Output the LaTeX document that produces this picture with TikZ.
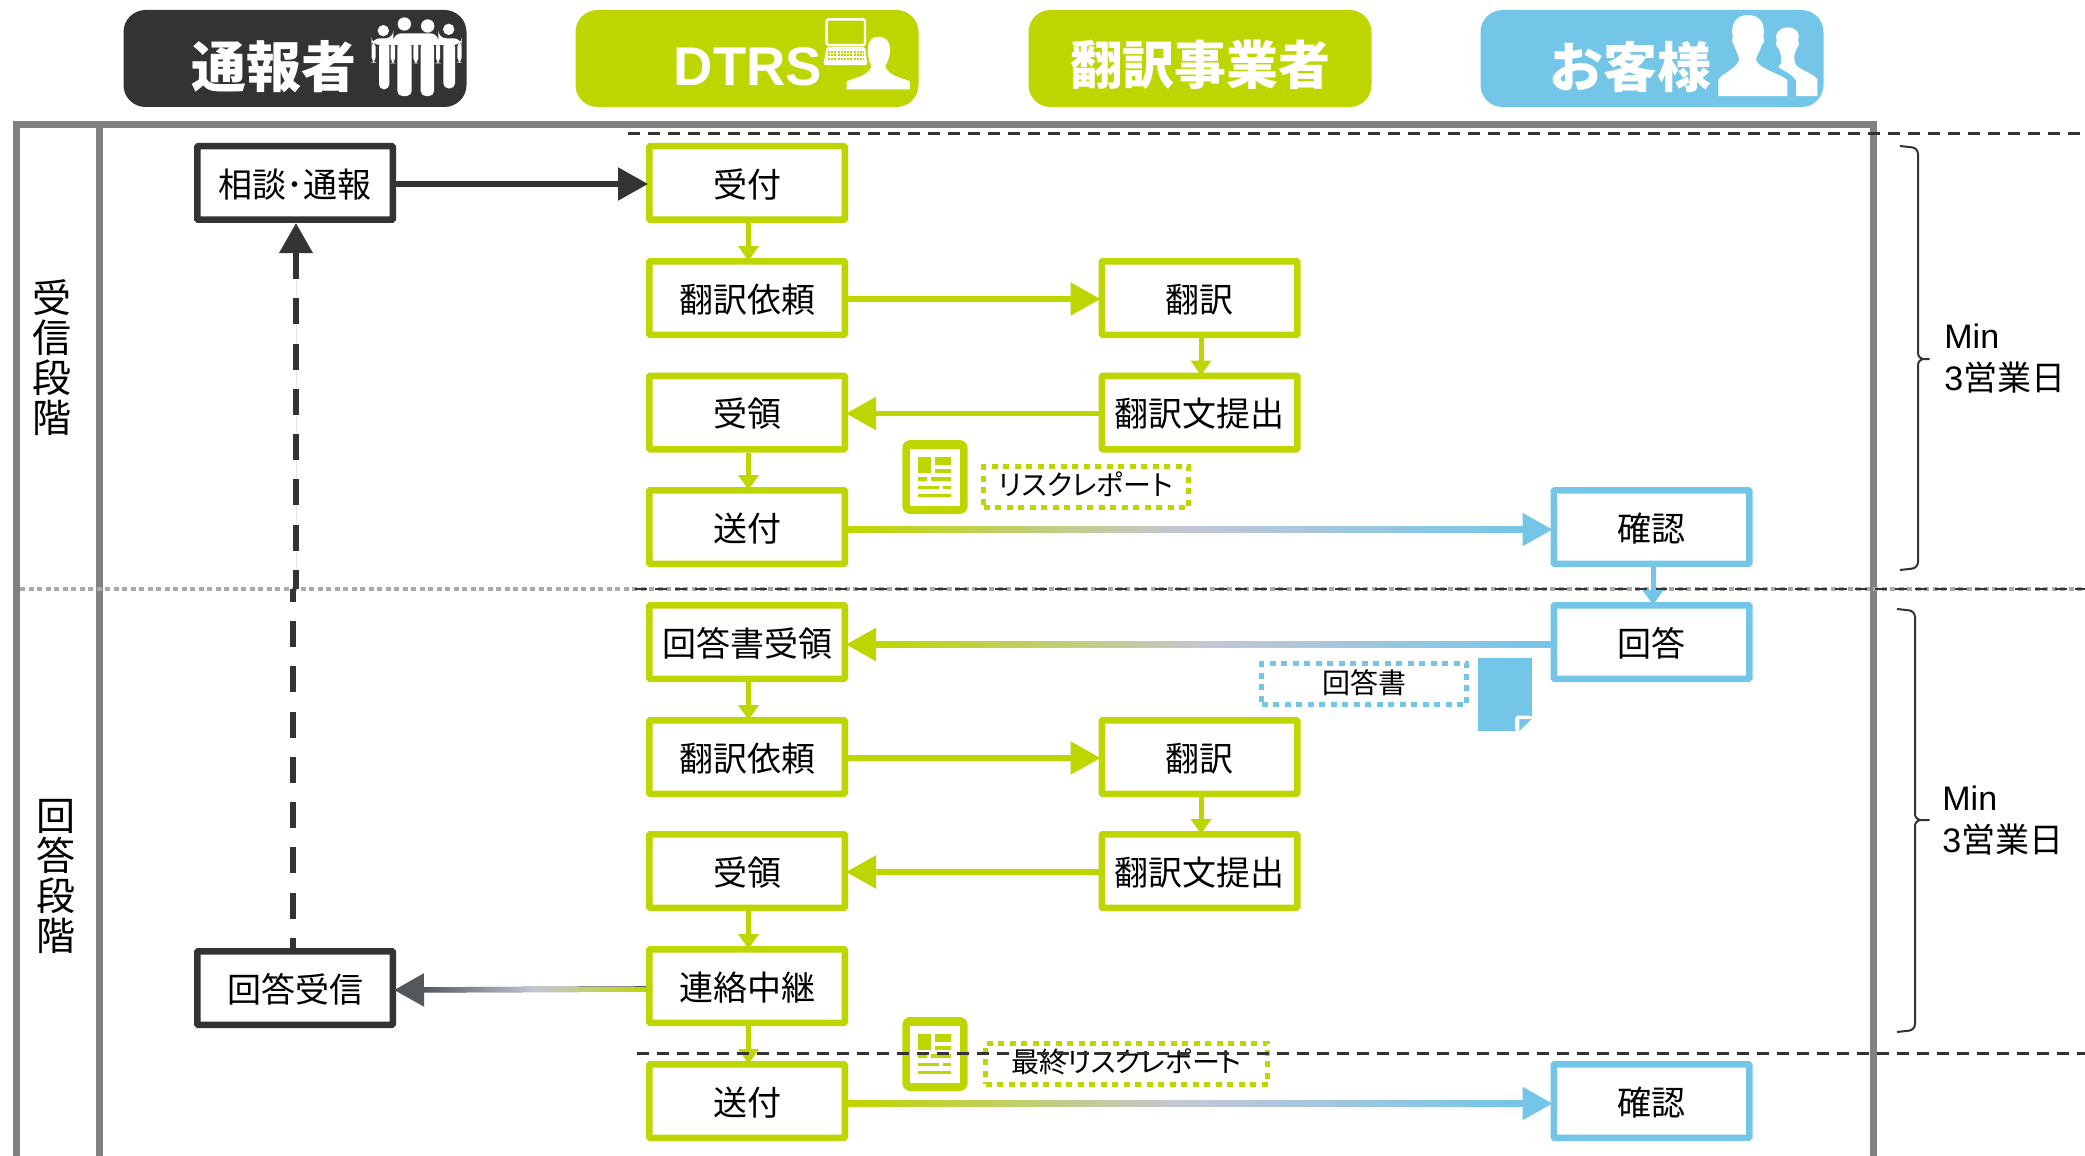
\documentclass[tikz,border=0pt]{standalone}
\usepackage{fontspec}
\usepackage{xcolor}
\usepackage{tikz}
\usetikzlibrary{arrows.meta,calc}
\setmainfont{Noto Sans CJK JP}
\newfontfamily\latinfont{Liberation Sans}
\definecolor{inkDark}{RGB}{51,51,51}
\definecolor{lime}{RGB}{190,214,0}
\definecolor{sky}{RGB}{115,198,231}
\definecolor{frameGrey}{RGB}{128,128,128}
\definecolor{dotGrey}{RGB}{170,170,170}
\definecolor{lav}{RGB}{196,198,214}
\definecolor{tipGrey}{RGB}{84,88,94}
\tikzset{
  hdr/.style={rounded corners=11pt, minimum width=171.5pt, minimum height=48.5pt, inner sep=0pt},
  hdrText/.style={text=white, inner sep=0pt, font=\fontsize{27.5}{30}\selectfont\bfseries},
  box/.style={draw, fill=white, line width=3.25pt, rounded corners=0.5pt, minimum width=97.75pt,
    minimum height=36.75pt, inner sep=0pt, text height=15.7pt, text depth=1.5pt,
    font=\fontsize{17}{20}\selectfont},
  boxDark/.style={box, draw=inkDark},
  boxLime/.style={box, draw=lime},
  boxSky/.style={box, draw=sky},
  tagBox/.style={draw, line width=2.5pt, dash pattern=on 3pt off 2.75pt, inner sep=0pt,
    minimum height=20.5pt, text height=11.5pt, text depth=2.3pt,
    font=\fontsize{14}{16}\selectfont\addfontfeatures{RawFeature=+palt}},
  stageText/.style={align=center, inner sep=0pt, font=\fontsize{19.5}{20}\selectfont},
  minText/.style={align=left, anchor=west, inner sep=0pt, font=\fontsize{17}{21.25}\selectfont},
  frameLine/.style={draw=frameGrey, line width=3.5pt},
  cutLine/.style={draw=inkDark, line width=1.5pt, dash pattern=on 6pt off 4pt},
  braceLine/.style={draw=inkDark, line width=1pt, rounded corners=3pt},
  moveTip/.style={-{Triangle[length=15pt,width=16pt]}, line width=2.75pt, shorten >=-1pt},
  moveArrow/.style={moveTip, transform canvas={yshift=-0.5pt}},
  gradArrow/.style={moveTip, transform canvas={yshift=-1.25pt}},
  downArrow/.style={-{Triangle[length=7.5pt,width=10pt]}, line width=2.5pt, shorten >=-1.5pt,
    transform canvas={xshift=0.75pt}},
  backArrow/.style={draw=inkDark, line width=3.25pt, dash pattern=on 13pt off 9.65pt}
}
% colour run along a shaft: left end, right end, left colour, right colour
\newcommand{\GradBar}[4]{%
  \shade[transform canvas={yshift=-1.25pt}, left color=#3, right color=#4, middle color=lav]
    ($(#1)+(0,-2.75)$) rectangle ($(#2)+(0,2.75)$);
}
% sheet icon
\newcommand{\SheetIcon}[1]{%
  \begin{scope}[shift={(895,#1)},x=0.1667pt,y=-0.1667pt]
    \fill[lime, rounded corners=4pt] (22,15) rectangle (218,237);
    \fill[white] (45,42) rectangle (195,212);
    \foreach \xa/\ya/\xb/\yb in {70/65/107/115,120/65/168/90,120/102/168/115,70/127/95/138,
      107/127/168/138,70/152/132/163,145/152/168/163,70/176/168/187}{%
      \fill[lime] (\xa,\ya) rectangle (\xb,\yb);
    }%
  \end{scope}%
}

\begin{document}
\begin{tikzpicture}[x=0.5pt,y=-0.5pt]
  \useasboundingbox (0,0) rectangle (2085,1156);
  % headers
  \node[hdr, fill=inkDark] (hdrCaller) at (295,58.5) {};
  \node[hdr, fill=lime] (hdrDtrs) at (747,58.5) {};
  \node[hdr, fill=lime] (hdrTrans) at (1200,58.5) {};
  \node[hdr, fill=sky] (hdrClient) at (1652,58.5) {};
  \node[hdrText] (lblCaller) at (274,66.5) {通報者};
  \node[hdrText, font=\latinfont\fontsize{27.25}{30}\selectfont\bfseries] (lblDtrs) at (748,66.5) {DTRS};
  \node[hdrText, font=\fontsize{26}{30}\selectfont\bfseries] (lblTrans) at (1200,64.5) {翻訳事業者};
  \node[hdrText, font=\fontsize{27}{30}\selectfont\bfseries] (lblClient) at (1630,66.5) {お客様};
  % people icon
  \begin{scope}[shift={(360,10)},x=0.1667pt,y=-0.1667pt]
    \fill[white] (70,62) circle (17) (133,42) circle (20) (203,48) circle (20) (266,58) circle (17);
    \fill[white, rounded corners=4pt] (35,105) -- (35,85) -- (100,85) -- (100,70) -- (235,70) -- (235,85)
      -- (305,85) -- (305,105) -- cycle;
    \foreach \xa/\xb/\yb in {35/47/158,92/105/160,160/175/160,228/240/160,292/305/158,
      57/88/238,112/155/258,182/222/258,250/285/235}{%
      \fill[white, rounded corners=2.5pt] (\xa,95) rectangle (\xb,\yb);
    }
  \end{scope}
  % laptop and operator
  \begin{scope}[shift={(810,10)},x=0.1667pt,y=-0.1667pt]
    \draw[white, line width=1.2pt, rounded corners=1pt] (50,28) rectangle (165,105);
    \fill[white, rounded corners=1pt] (50,110) -- (165,110) -- (172,165) -- (40,165) -- cycle;
    \foreach \ya in {127,136,146}{%
      \draw[lime, line width=0.9pt, dash pattern=on 1pt off 0.6pt] (54,\ya) -- (162,\ya);
    }
    \fill[white, draw=lime, line width=0.6pt] (108,240) -- (108,212) .. controls (140,200) and (170,195) .. (182,170)
      .. controls (165,130) and (165,78) .. (205,78) .. controls (250,78) and (250,130) .. (228,170)
      .. controls (240,195) and (270,200) .. (302,212) -- (302,240) -- cycle;
  \end{scope}
  % two clients
  \begin{scope}[shift={(1710,10)},x=0.1667pt,y=-0.1667pt]
    \fill[white] (25,258) -- (25,210) .. controls (35,190) and (75,180) .. (88,150)
      .. controls (85,130) and (75,120) .. (72,105) -- (66,95) -- (68,80)
      .. controls (60,35) and (85,15) .. (113,15) .. controls (145,15) and (168,35) .. (160,80)
      -- (163,95) -- (155,105) .. controls (150,125) and (140,135) .. (138,150)
      .. controls (150,180) and (210,190) .. (232,210) -- (232,258) -- cycle;
    \fill[white] (258,258) -- (258,212) .. controls (250,195) and (225,185) .. (205,171)
      .. controls (218,160) and (215,140) .. (208,120) -- (198,105) -- (200,90)
      .. controls (192,65) and (215,52) .. (232,52) .. controls (255,52) and (272,65) .. (264,90)
      -- (267,102) -- (258,120) .. controls (252,135) and (250,150) .. (258,165)
      .. controls (270,180) and (310,190) .. (322,208) -- (322,258) -- cycle;
  \end{scope}
  % frame
  \draw[frameLine] (16.5,1156) -- (16.5,124.5) -- (1873.5,124.5) -- (1873.5,1156);
  \draw[frameLine] (99,124.5) -- (99,1156);
  % phase border
  \draw[draw=dotGrey, line width=2.25pt, dash pattern=on 2.5pt off 1.75pt] (20,589) -- (2085,589);
  \draw[cutLine, line width=1pt] (635,589) -- (2085,589);
  % phase names
  \node[stageText] (stageIn) at (52,357.5) {受\\信\\段\\階};
  \node[stageText] (stageOut) at (56,876) {回\\答\\段\\階};
  % steps
  \node[boxDark] (consult) at (295,183) {相談･通報};
  \node[boxDark] (replyIn) at (295,988) {回答受信};
  \node[boxLime] (accept) at (747,183) {受付};
  \node[boxLime] (reqA) at (747,298) {翻訳依頼};
  \node[boxLime] (gotA) at (747,412.5) {受領};
  \node[boxLime] (sendA) at (747,527) {送付};
  \node[boxLime] (answerIn) at (747,642) {回答書受領};
  \node[boxLime] (reqB) at (747,757) {翻訳依頼};
  \node[boxLime] (gotB) at (747,871) {受領};
  \node[boxLime] (relay) at (747,986) {連絡中継};
  \node[boxLime] (sendB) at (747,1101) {送付};
  \node[boxLime] (doA) at (1199.5,298) {翻訳};
  \node[boxLime] (outA) at (1199.5,412.5) {翻訳文提出};
  \node[boxLime] (doB) at (1199.5,757) {翻訳};
  \node[boxLime] (outB) at (1199.5,871) {翻訳文提出};
  \node[boxSky] (checkA) at (1651.5,527) {確認};
  \node[boxSky] (answer) at (1651.5,642) {回答};
  \node[boxSky] (checkB) at (1651.5,1101) {確認};
  % arrows
  \draw[moveArrow, draw=inkDark, fill=inkDark] (consult) -- (accept);
  \foreach \pa/\pb in {accept/reqA,doA/outA,gotA/sendA,answerIn/reqB,doB/outB,gotB/relay,relay/sendB}{%
    \draw[downArrow, draw=lime, fill=lime] (\pa) -- (\pb);
  }
  \foreach \pa/\pb in {reqA/doA,outA/gotA,reqB/doB,outB/gotB}{%
    \draw[moveArrow, draw=lime, fill=lime] (\pa) -- (\pb);
  }
  \draw[downArrow, draw=sky, fill=sky] (checkA) -- (answer);
  % gradient arrows
  \coordinate (tipA) at ($(checkA.west)+(-28,0)$);
  \coordinate (tipB) at ($(answerIn.east)+(28,0)$);
  \coordinate (tipC) at ($(replyIn.east)+(28,0)$);
  \coordinate (tipD) at ($(checkB.west)+(-28,0)$);
  \draw[gradArrow, draw=sky, fill=sky] (sendA) -- (checkA);
  \GradBar{sendA.east}{tipA}{lime}{sky}
  \draw[gradArrow, draw=lime, fill=lime] (answer) -- (answerIn);
  \GradBar{tipB}{answer.west}{lime}{sky}
  \draw[gradArrow, draw=tipGrey, fill=tipGrey] (relay) -- (replyIn);
  \GradBar{tipC}{relay.west}{tipGrey}{lime}
  \draw[gradArrow, draw=sky, fill=sky] (sendB) -- (checkB);
  \GradBar{sendB.east}{tipD}{lime}{sky}
  % dashed return
  \coordinate (jogLow) at (293,589);
  \coordinate (jogUp) at (296,589);
  \draw[backArrow, dash phase=8pt] (jogLow |- replyIn.north) -- (jogLow);
  \draw[backArrow, dash phase=3.5pt, -{Triangle[length=15pt,width=16pt]}, fill=inkDark] (jogUp) -- (jogUp |- consult.south);
  % attachments
  \SheetIcon{435}
  \node[tagBox, draw=lime, minimum width=102.5pt, text height=11pt, text depth=3pt] (tagRisk) at (1086,487) {リスクレポート};
  \SheetIcon{1012}
  \node[tagBox, draw=lime, minimum width=141pt] (tagFinal) at (1126.5,1063.5) {最終リスクレポート};
  \node[tagBox, draw=sky, minimum width=102.5pt] (tagAns) at (1364,684) {回答書};
  \begin{scope}[shift={(1470,650)},x=0.1667pt,y=-0.1667pt]
    \fill[sky] (25,25) rectangle (185,243);
    \fill[white, rounded corners=1.5pt] (135,245) -- (135,197) -- (187,197) -- (187,245) -- cycle;
    \fill[sky] (148,207) -- (185,207) -- (148,243) -- cycle;
  \end{scope}
  % timing
  \draw[braceLine] (1900,146) -- (1918,148) -- (1918,359) -- (1933,359) -- (1918,359) -- (1918,568) -- (1900,570);
  \draw[braceLine] (1897,609) -- (1915,611) -- (1915,820) -- (1933,820) -- (1915,820) -- (1915,1030) -- (1897,1032);
  \node[minText] (minA) at (1944,358.5) {{\latinfont Min}\\{\latinfont 3}営業日};
  \node[minText] (minB) at (1942,820.5) {{\latinfont Min}\\{\latinfont 3}営業日};
  % deadlines
  \draw[cutLine] (628,134) -- (2085,134);
  \draw[cutLine] (637,1053) -- (2085,1053);
\end{tikzpicture}
\end{document}
